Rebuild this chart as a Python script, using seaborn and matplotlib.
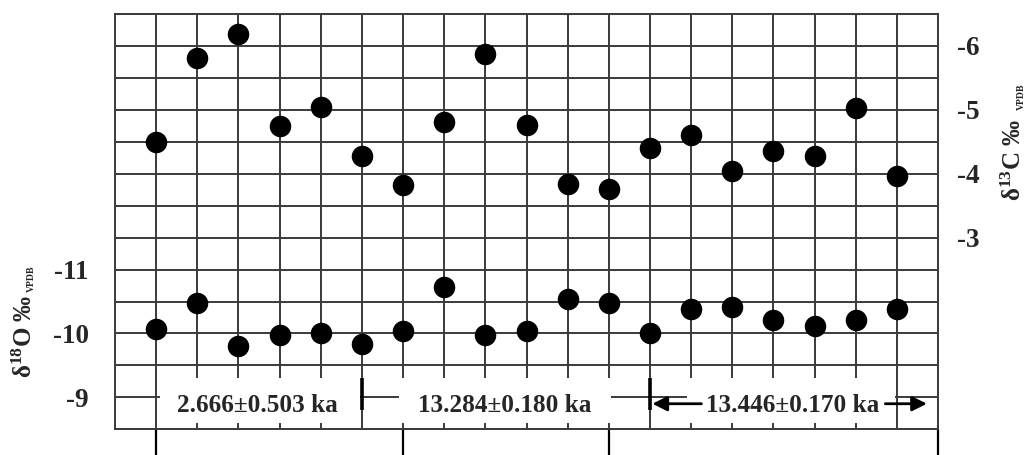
import numpy as np
import matplotlib
matplotlib.use('Agg')
import matplotlib.pyplot as plt
from matplotlib.patches import Rectangle
import seaborn as sns

# sample positions along the profile and the two isotope series
sample_pos = list(range(1, 20))
d13c = [-4.50, -5.81, -6.19, -4.74, -5.05, -4.27, -3.83, -4.81, -5.87, -4.77,
        -3.84, -3.76, -4.40, -4.61, -4.05, -4.35, -4.27, -5.03, -3.97]
d18o = [-10.07, -10.48, -9.80, -9.97, -10.00, -9.83, -10.04, -10.72, -9.97, -10.04,
        -10.54, -10.48, -10.00, -10.38, -10.42, -10.21, -10.12, -10.21, -10.39]

# age groups
age_labels = ['2.666±0.503 ka', '13.284±0.180 ka', '13.446±0.170 ka']
age_bounds = [1, 7, 12, 20]

left_ticks = [-9, -10, -11]
right_ticks = [-3, -4, -5, -6]

sns.set_theme(style='white')
plt.rcParams['font.family'] = ['Liberation Serif', 'DejaVu Serif']
plt.rcParams['font.weight'] = 'bold'
plt.rcParams['mathtext.fontset'] = 'custom'
plt.rcParams['mathtext.rm'] = 'Liberation Serif:bold'
plt.rcParams['mathtext.it'] = 'Liberation Serif:bold'
plt.rcParams['mathtext.bf'] = 'Liberation Serif:bold'
plt.rcParams['axes.unicode_minus'] = False

W, H = 1027, 455
grid_col = '#3a3a3a'

fig = plt.figure(figsize=(W / 100, H / 100), dpi=100)
ax = fig.add_axes([115 / W, (H - 429.3) / H, (938 - 115) / W, (429.3 - 14) / H])
ax2 = ax.twinx()

# left axis: d18O, grid every 0.5
ax.set_xlim(0, 20)
ax.set_ylim(-8.5, -15)
# major x ticks = long marks under the axis at the age group boundaries,
# minor x ticks = one grid line per sample
ax.set_xticks(age_bounds)
ax.set_xticks(sample_pos, minor=True)
ax.set_xticklabels([])
ax.tick_params(axis='x', which='major', bottom=True, length=19, width=1.6,
               color='black', direction='out')
ax.tick_params(axis='x', which='minor', length=0)
ygrid = np.arange(-15, -8.49, 0.5)
ax.set_yticks(ygrid)
ax.set_yticklabels([f'{v:.0f}' if v in left_ticks else '' for v in ygrid])
ax.tick_params(axis='y', length=0, pad=19, labelsize=19.5)
ax.grid(True, which='both', color=grid_col, lw=1.4)
ax.set_axisbelow(True)
for sp in ax.spines.values():
    sp.set_color(grid_col)
    sp.set_linewidth(1.4)

sns.scatterplot(x=sample_pos, y=d18o, ax=ax, color='black', s=240, linewidth=0, zorder=3)

# white bands carrying the age labels
band_lo, band_hi = -9.3, -8.594
boxes = [(1.1, 5.95), (6.9, 12.05), (13.9, 18.95)]
for x0, x1 in boxes:
    ax.add_patch(Rectangle((x0, band_lo), x1 - x0, band_hi - band_lo,
                           facecolor='white', edgecolor='none', zorder=2))
ax.vlines([6, 13], band_lo, -8.8, color='black', lw=2.6, zorder=2.5)

ax.text(3.46, -8.88, age_labels[0], ha='center', va='center', fontsize=18.2, zorder=4)
ax.text(9.47, -8.88, age_labels[1], ha='center', va='center', fontsize=18.2, zorder=4)
ax.text(16.46, -8.88, age_labels[2], ha='center', va='center', fontsize=18.2, zorder=4)
arr = dict(arrowstyle='-|>', color='black', lw=2, mutation_scale=22, shrinkA=0, shrinkB=0)
ax.annotate('', xy=(13.06, -8.9), xytext=(14.25, -8.9), arrowprops=arr, zorder=4)
ax.annotate('', xy=(19.73, -8.9), xytext=(18.72, -8.9), arrowprops=arr, zorder=4)

# right axis: d13C
ax2.set_ylim(0, -6.5)
ax2.set_yticks(right_ticks)
ax2.set_yticklabels([str(v) for v in right_ticks])
ax2.tick_params(axis='y', length=0, pad=14, labelsize=19.5)
ax2.grid(False)
for sp in ax2.spines.values():
    sp.set_visible(False)
sns.scatterplot(x=sample_pos, y=d13c, ax=ax2, color='black', s=240, linewidth=0, zorder=3)
ax2.set_ylabel('')
ax.set_ylabel('')

# axis titles
fig.text(25 / W, 1 - 336 / H, r'δ$^{18}$O ‰', rotation=90, ha='center', va='center', fontsize=18)
fig.text(31 / W, 1 - 279 / H, 'VPDB', rotation=90, ha='center', va='center', fontsize=7)
fig.text(1014 / W, 1 - 160 / H, r'δ$^{13}$C ‰', rotation=90, ha='center', va='center', fontsize=18)
fig.text(1021 / W, 1 - 97 / H, 'VPDB', rotation=90, ha='center', va='center', fontsize=7)

fig.savefig('out.png', dpi=100)
